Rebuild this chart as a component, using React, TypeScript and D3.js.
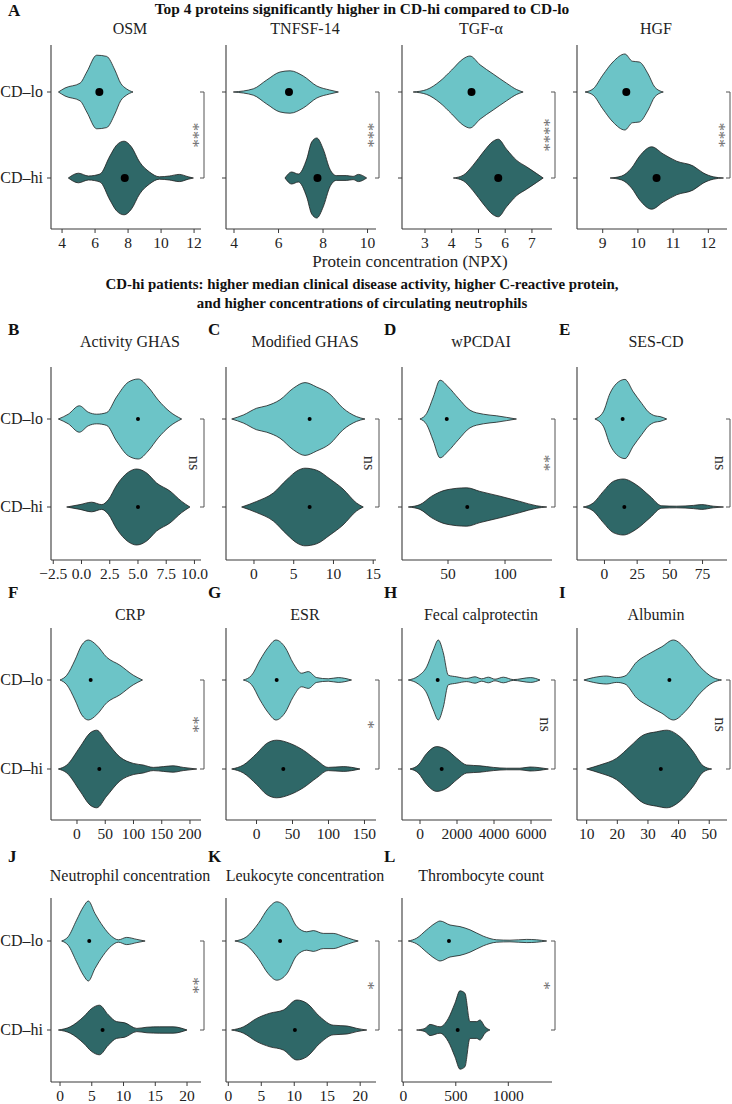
import * as d3 from 'd3';

type Pt = [number, number];

const LIGHT = '#6cc4c7';
const DARK = '#2f6868';

// violin outlines: [value, relative half-width]
const osmLo: Pt[] = [[3.78, 0], [4.18, 0.1], [5.09, 0.22], [5.5, 0.5], [6.1, 0.92], [6.7, 0.89], [7.2, 0.55], [7.55, 0.22], [7.9, 0.08], [8.3, 0]];
const osmHi: Pt[] = [[4.38, 0], [4.99, 0.12], [5.6, 0.05], [6.3, 0.1], [6.9, 0.55], [7.3, 0.82], [7.76, 0.92], [8.2, 0.78], [8.7, 0.4], [9.3, 0.15], [9.9, 0.03], [10.5, 0.05], [11.1, 0.09], [11.65, 0.03], [11.96, 0]];
const tnfLo: Pt[] = [[3.97, 0], [4.87, 0.08], [5.47, 0.3], [6.07, 0.5], [6.52, 0.53], [7.11, 0.4], [7.72, 0.15], [8.3, 0.05], [8.69, 0]];
const tnfHi: Pt[] = [[6.29, 0], [6.59, 0.15], [6.89, 0.1], [7.27, 0.48], [7.49, 0.9], [7.72, 1.0], [8.01, 0.72], [8.31, 0.22], [8.6, 0.06], [9.06, 0.06], [9.35, 0.04], [9.59, 0.09], [9.96, 0]];
const tgfLo: Pt[] = [[2.56, 0], [3.06, 0.06], [3.56, 0.27], [4.0, 0.55], [4.43, 0.83], [4.68, 0.9], [5.06, 0.68], [5.55, 0.45], [6.05, 0.22], [6.43, 0.06], [6.67, 0]];
const tgfHi: Pt[] = [[4.06, 0], [4.43, 0.07], [4.8, 0.32], [5.18, 0.65], [5.55, 0.92], [5.74, 0.97], [6.05, 0.72], [6.43, 0.44], [6.8, 0.28], [7.18, 0.11], [7.42, 0]];
const hgfLo: Pt[] = [[8.5, 0], [8.73, 0.08], [9.0, 0.42], [9.29, 0.75], [9.63, 0.95], [9.84, 0.77], [10.04, 0.75], [10.29, 0.45], [10.48, 0.12], [10.72, 0]];
const hgfHi: Pt[] = [[9.21, 0], [9.54, 0.05], [9.82, 0.25], [10.05, 0.55], [10.39, 0.78], [10.72, 0.6], [11.1, 0.42], [11.57, 0.3], [11.85, 0.13], [12.14, 0.03], [12.43, 0]];

const actLo: Pt[] = [[-2.05, 0], [-1.17, 0.12], [-0.19, 0.33], [0.6, 0.17], [1.35, 0.12], [2.23, 0.16], [3.1, 0.55], [4.14, 0.92], [5.03, 1.0], [5.9, 0.8], [6.8, 0.47], [7.83, 0.18], [8.87, 0]];
const actHi: Pt[] = [[-1.31, 0], [-0.13, 0.06], [0.9, 0.12], [1.79, 0.06], [2.37, 0.18], [3.12, 0.55], [4.14, 0.87], [4.88, 0.95], [5.77, 0.85], [6.65, 0.6], [7.83, 0.4], [8.87, 0.14], [9.6, 0]];
const modLo: Pt[] = [[-2.8, 0], [-1.34, 0.1], [0.34, 0.27], [1.6, 0.33], [3.27, 0.48], [4.95, 0.77], [6.42, 0.91], [7.88, 0.8], [9.56, 0.62], [11.2, 0.27], [12.9, 0.06], [13.96, 0]];
const modHi: Pt[] = [[-1.55, 0], [0.34, 0.14], [2.43, 0.35], [4.1, 0.68], [5.57, 0.92], [6.42, 0.97], [7.88, 0.92], [9.56, 0.7], [11.2, 0.45], [12.9, 0.1], [13.75, 0]];
const wpcLo: Pt[] = [[25.4, 0], [31.3, 0.14], [37.1, 0.55], [43, 0.97], [50.3, 0.8], [59, 0.52], [69.3, 0.22], [81, 0.12], [92.7, 0.08], [101.5, 0.04], [110, 0]];
const wpcHi: Pt[] = [[15.2, 0], [25.4, 0.06], [35.7, 0.27], [48.9, 0.43], [66.4, 0.48], [78, 0.39], [95.6, 0.27], [113, 0.14], [127.8, 0.03], [136.6, 0]];
const sesLo: Pt[] = [[-7.3, 0], [-0.9, 0.18], [4.2, 0.64], [9.3, 0.89], [15.7, 0.99], [22, 0.68], [28.5, 0.39], [33.5, 0.18], [38.6, 0.08], [42.5, 0.06], [47.6, 0]];
const sesHi: Pt[] = [[-16.2, 0], [-8.6, 0.1], [-0.9, 0.39], [6.7, 0.64], [14.4, 0.7], [24.6, 0.55], [34.8, 0.27], [43.8, 0.03], [55.2, 0.02], [68, 0.04], [74.4, 0.06], [83.2, 0.02], [91, 0]];

const crpLo: Pt[] = [[-30, 0], [-18, 0.12], [-3.5, 0.5], [8.3, 0.87], [20, 1.0], [34.8, 0.87], [52.5, 0.57], [76, 0.37], [99.6, 0.12], [116, 0]];
const crpHi: Pt[] = [[-33, 0], [-18, 0.1], [5.3, 0.55], [23, 0.9], [34.8, 0.97], [52.5, 0.68], [76, 0.3], [99.6, 0.14], [117, 0.1], [135, 0.04], [153, 0.06], [170, 0.08], [188, 0.04], [212, 0]];
const esrLo: Pt[] = [[-18.3, 0], [-6.7, 0.12], [4.9, 0.5], [16.4, 0.82], [27, 1.0], [39.6, 0.82], [51, 0.42], [62.7, 0.17], [72, 0.21], [83.6, 0.06], [99.7, 0.03], [113.6, 0.06], [132, 0]];
const esrHi: Pt[] = [[-34.5, 0], [-18.3, 0.1], [0.3, 0.39], [14.2, 0.64], [28, 0.72], [46.5, 0.64], [65, 0.47], [83.6, 0.22], [99.7, 0.04], [120.6, 0.06], [143.7, 0]];
const calLo: Pt[] = [[-632, 0], [-92, 0.1], [362, 0.33], [719, 0.75], [989, 1.0], [1260, 0.68], [1530, 0.12], [1983, 0.08], [2524, 0.04], [2973, 0.08], [3333, 0.03], [3694, 0.07], [4054, 0.02], [4505, 0.07], [5045, 0.01], [5982, 0.06], [6486, 0]];
const calHi: Pt[] = [[-540, 0], [-92, 0.1], [362, 0.39], [902, 0.56], [1443, 0.48], [1983, 0.27], [2524, 0.1], [3243, 0.08], [3964, 0.04], [4685, 0.02], [5405, 0.02], [5946, 0.05], [6936, 0]];
const albLo: Pt[] = [[9.1, 0], [12.2, 0.06], [16.5, 0.1], [19.8, 0.06], [22.5, 0.1], [26.3, 0.45], [30.7, 0.67], [34.5, 0.83], [38.3, 1.0], [42.6, 0.75], [47, 0.33], [51.3, 0.06], [54, 0]];
const albHi: Pt[] = [[10, 0], [14.3, 0.1], [19.8, 0.27], [24.1, 0.56], [28.5, 0.85], [32.8, 0.93], [36.1, 0.97], [40.4, 0.81], [44.8, 0.43], [48, 0.08], [50.8, 0]];

const neuLo: Pt[] = [[0.26, 0], [1.3, 0.11], [2.6, 0.52], [3.7, 0.86], [4.46, 1.0], [5.5, 0.69], [6.8, 0.36], [8.1, 0.12], [9.2, 0.03], [10.5, 0.09], [12.1, 0.04], [13.4, 0]];
const neuHi: Pt[] = [[-0.26, 0], [1.6, 0.08], [3.7, 0.33], [5.0, 0.54], [6.2, 0.62], [7.6, 0.38], [8.9, 0.21], [10.2, 0.18], [12.1, 0.04], [13.7, 0.07], [15.7, 0.08], [17.8, 0.08], [20, 0]];
const leuLo: Pt[] = [[1.0, 0], [2.8, 0.11], [4.56, 0.44], [6.07, 0.82], [7.35, 0.98], [8.87, 0.82], [10.4, 0.36], [11.9, 0.23], [12.9, 0.26], [14.4, 0.19], [15.9, 0.19], [17.5, 0.11], [19, 0.03], [19.7, 0]];
const leuHi: Pt[] = [[0.5, 0], [2.3, 0.08], [4.3, 0.29], [6.3, 0.42], [8.35, 0.5], [10.4, 0.75], [11.9, 0.67], [13.9, 0.33], [15.9, 0.12], [18, 0.1], [19.5, 0.04], [21, 0]];
const thrLo: Pt[] = [[48, 0], [127, 0.07], [223, 0.28], [302, 0.44], [350, 0.5], [445, 0.4], [540, 0.36], [635, 0.28], [762, 0.12], [889, 0.03], [1016, 0.02], [1175, 0.04], [1270, 0.03], [1365, 0]];
const thrHi: Pt[] = [[127, 0], [207, 0.04], [254, 0.14], [350, 0.08], [429, 0.29], [492, 0.67], [540, 0.98], [587, 0.92], [635, 0.21], [699, 0.21], [730, 0.25], [778, 0.08], [825, 0]];

// medians [CD-lo, CD-hi]
const medians: Record<string, [number, number]> = {
  osm: [6.26, 7.8], tnf: [6.47, 7.75], tgf: [4.74, 5.74], hgf: [9.67, 10.53],
  act: [5, 5], mod: [7, 7], wpc: [48.9, 66.9], ses: [13.9, 15.2],
  crp: [24.2, 39.5], esr: [28, 37.2], cal: [955, 1171], alb: [37, 34.2],
  neu: [4.6, 6.7], leu: [7.85, 10.1], thr: [435, 518],
};

const groups = ['CD–lo', 'CD–hi'];

const panels = [
  { key: 'osm', row: 0, col: 0, letter: '', title: 'OSM', lo: osmLo, hi: osmHi, domain: [3.33, 12.42], ticks: [4, 6, 8, 10, 12], sig: '***' },
  { key: 'tnf', row: 0, col: 1, letter: '', title: 'TNFSF-14', lo: tnfLo, hi: tnfHi, domain: [3.64, 10.38], ticks: [4, 6, 8, 10], sig: '***' },
  { key: 'tgf', row: 0, col: 2, letter: '', title: 'TGF-α', lo: tgfLo, hi: tgfHi, domain: [2.14, 7.75], ticks: [3, 4, 5, 6, 7], sig: '****' },
  { key: 'hgf', row: 0, col: 3, letter: '', title: 'HGF', lo: hgfLo, hi: hgfHi, domain: [8.27, 12.53], ticks: [9, 10, 11, 12], sig: '***' },
  { key: 'act', row: 1, col: 0, letter: 'B', title: 'Activity GHAS', lo: actLo, hi: actHi, domain: [-2.7, 10.58], ticks: [-2.5, 0, 2.5, 5, 7.5, 10], sig: 'ns', fmt: '.1f' },
  { key: 'mod', row: 1, col: 1, letter: 'C', title: 'Modified GHAS', lo: modLo, hi: modHi, domain: [-3.52, 15.35], ticks: [0, 5, 10, 15], sig: 'ns' },
  { key: 'wpc', row: 1, col: 2, letter: 'D', title: 'wPCDAI', lo: wpcLo, hi: wpcHi, domain: [9.65, 141.2], ticks: [50, 100], sig: '**' },
  { key: 'ses', row: 1, col: 3, letter: 'E', title: 'SES-CD', lo: sesLo, hi: sesHi, domain: [-21, 93.7], ticks: [0, 25, 50, 75], sig: 'ns' },
  { key: 'crp', row: 2, col: 0, letter: 'F', title: 'CRP', lo: crpLo, hi: crpHi, domain: [-46, 219.5], ticks: [0, 50, 100, 150, 200], sig: '**' },
  { key: 'esr', row: 2, col: 1, letter: 'G', title: 'ESR', lo: esrLo, hi: esrHi, domain: [-42.4, 166], ticks: [0, 50, 100, 150], sig: '*' },
  { key: 'cal', row: 2, col: 2, letter: 'H', title: 'Fecal calprotectin', lo: calLo, hi: calHi, domain: [-973, 7135], ticks: [0, 2000, 4000, 6000], sig: 'ns' },
  { key: 'alb', row: 2, col: 3, letter: 'I', title: 'Albumin', lo: albLo, hi: albHi, domain: [6.84, 55.8], ticks: [10, 20, 30, 40, 50], sig: 'ns' },
  { key: 'neu', row: 3, col: 0, letter: 'J', title: 'Neutrophil concentration', lo: neuLo, hi: neuHi, domain: [-1.42, 22.2], ticks: [0, 5, 10, 15, 20], sig: '**' },
  { key: 'leu', row: 3, col: 1, letter: 'K', title: 'Leukocyte concentration', lo: leuLo, hi: leuHi, domain: [-0.35, 22.4], ticks: [0, 5, 10, 15, 20], sig: '*' },
  { key: 'thr', row: 3, col: 2, letter: 'L', title: 'Thrombocyte count', lo: thrLo, hi: thrHi, domain: [-12, 1416], ticks: [0, 500, 1000], sig: '*' },
];

// layout
const COLS = [51, 226, 402, 577];
const PW = 150;
const HALF = 40;
const ROWS = [
  { top: 45, bottom: 229, lo: 92, hi: 178, titleY: 34, letterY: 16, dot: 4 },
  { top: 367, bottom: 560, lo: 419, hi: 507, titleY: 347, letterY: 335, dot: 2 },
  { top: 628, bottom: 820, lo: 680, hi: 769, titleY: 620, letterY: 598, dot: 2 },
  { top: 898, bottom: 1082, lo: 941, hi: 1030, titleY: 881, letterY: 862, dot: 2 },
];

const AXIS = '#3a3a3a';
const TEXT = '#222';

function Panel({ p }: { p: any }) {
  const r = ROWS[p.row];
  const x0 = COLS[p.col];
  const x = d3.scaleLinear().domain(p.domain).range([x0, x0 + PW]);
  const fmt = p.fmt ? d3.format(p.fmt) : (d: number) => String(d);
  const area = (cy: number) =>
    d3
      .area<Pt>()
      .x((d) => x(d[0]))
      .y0((d) => cy + d[1] * HALF)
      .y1((d) => cy - d[1] * HALF)
      .curve(d3.curveMonotoneX);
  const med = medians[p.key];
  const bx = x0 + PW + 3;
  const mid = (r.lo + r.hi) / 2;
  const isNs = p.sig === 'ns';
  return (
    <g>
      {p.letter && (
        <text x={p.col === 0 ? 8 : x0 - 18} y={r.letterY} fontSize={17} fontWeight="bold" fill="#111">
          {p.letter}
        </text>
      )}
      <text x={x0 + 79} y={r.titleY} textAnchor="middle" fontSize={16} fill={TEXT}>
        {p.title}
      </text>
      <line x1={x0} x2={x0} y1={r.top} y2={r.bottom} stroke={AXIS} strokeWidth={1.1} />
      <line x1={x0} x2={x0 + PW} y1={r.bottom} y2={r.bottom} stroke={AXIS} strokeWidth={1.1} />
      {[r.lo, r.hi].map((cy, i) => (
        <g key={i}>
          <line x1={x0 - 4} x2={x0} y1={cy} y2={cy} stroke={AXIS} strokeWidth={1} />
          {p.col === 0 && (
            <text x={x0 - 8} y={cy} dy="0.33em" textAnchor="end" fontSize={16} fill={TEXT}>
              {groups[i]}
            </text>
          )}
        </g>
      ))}
      {p.ticks.map((t: number) => (
        <g key={t}>
          <line x1={x(t)} x2={x(t)} y1={r.bottom} y2={r.bottom + 4} stroke={AXIS} strokeWidth={1} />
          <text x={x(t)} y={r.bottom + 19} textAnchor="middle" fontSize={15.5} fill={TEXT}>
            {fmt(t)}
          </text>
        </g>
      ))}
      <path d={area(r.lo)(p.lo) ?? ''} fill={LIGHT} stroke="#1d1d1d" strokeWidth={0.8} />
      <path d={area(r.hi)(p.hi) ?? ''} fill={DARK} stroke="#1d1d1d" strokeWidth={0.8} />
      <circle cx={x(med[0])} cy={r.lo} r={r.dot} fill="#000" />
      <circle cx={x(med[1])} cy={r.hi} r={r.dot} fill="#000" />
      <path d={`M${bx - 4},${r.lo}H${bx}V${r.hi}H${bx - 4}`} fill="none" stroke="#555" strokeWidth={1} />
      <text
        transform={`translate(${isNs ? bx - 10 : bx - 11},${mid}) rotate(90)`}
        textAnchor="middle"
        dominantBaseline="central"
        fontSize={isNs ? 16.5 : 16.5}
        fill={isNs ? '#333' : '#707070'}
      >
        {p.sig}
      </text>
    </g>
  );
}

export default function App() {
  return (
    <svg
      width={732}
      height={1104}
      viewBox="0 0 732 1104"
      style={{ position: 'absolute', left: 0, top: 0, background: '#fff' }}
      fontFamily="'Liberation Serif', 'Times New Roman', serif"
    >
      <text x={8} y={16} fontSize={17} fontWeight="bold" fill="#111">A</text>
      <text x={362} y={14} textAnchor="middle" fontSize={15.4} fontWeight="bold" fill="#111">
        Top 4 proteins significantly higher in CD-hi compared to CD-lo
      </text>
      <text x={410} y={267} textAnchor="middle" fontSize={17} fill={TEXT}>
        Protein concentration (NPX)
      </text>
      <text x={362} y={289} textAnchor="middle" fontSize={14.9} fontWeight="bold" fill="#111">
        CD-hi patients: higher median clinical disease activity, higher C-reactive protein,
      </text>
      <text x={362} y={308} textAnchor="middle" fontSize={14.9} fontWeight="bold" fill="#111">
        and higher concentrations of circulating neutrophils
      </text>
      {panels.map((p) => (
        <Panel key={p.key} p={p} />
      ))}
    </svg>
  );
}
